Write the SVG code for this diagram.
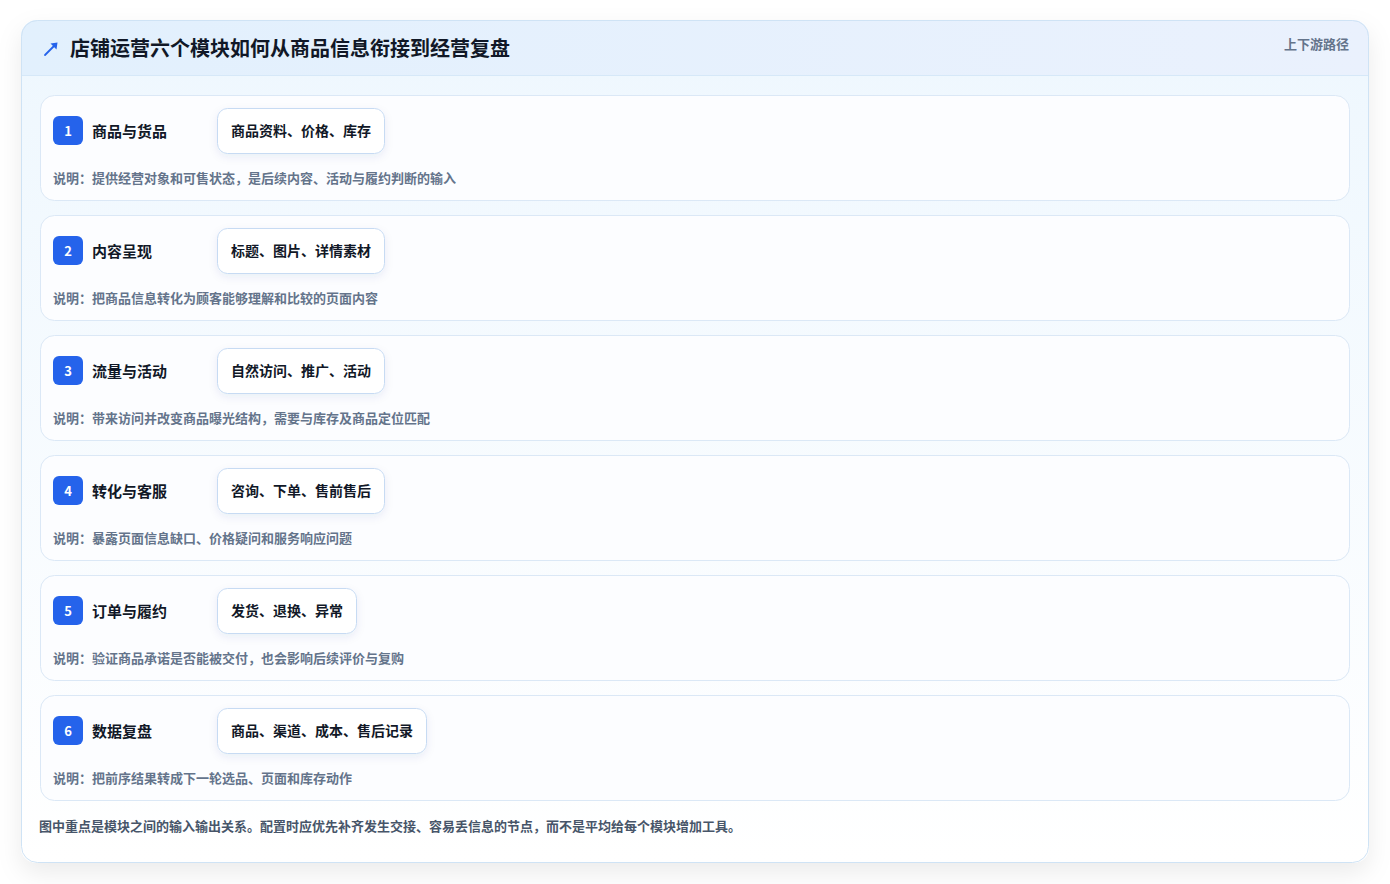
<svg xmlns="http://www.w3.org/2000/svg" width="1390" height="884" viewBox="0 0 1390 884">
<defs>
<filter id="cardShadow" x="-10%" y="-10%" width="120%" height="125%">
<feDropShadow dx="0" dy="10" stdDeviation="12" flood-color="#0f172a" flood-opacity="0.08"/>
</filter>
<filter id="chipShadow" x="-20%" y="-30%" width="140%" height="180%">
<feDropShadow dx="0" dy="3" stdDeviation="4" flood-color="#1e3a8a" flood-opacity="0.08"/>
</filter>
<linearGradient id="headGrad" x1="0" y1="0" x2="1" y2="0">
<stop offset="0" stop-color="#e2f0fd"/>
<stop offset="1" stop-color="#eaf1fd"/>
</linearGradient>
<linearGradient id="bodyGrad" x1="0" y1="0" x2="0" y2="1">
<stop offset="0" stop-color="#eef7fe"/>
<stop offset="1" stop-color="#ffffff"/>
</linearGradient>
<clipPath id="cardClip"><rect x="21" y="20" width="1348" height="843" rx="16"/></clipPath>
<style>
text{font-family:"Noto Sans CJK SC","Noto Sans",sans-serif;}
.title{font-size:20px;font-weight:700;fill:#111827;}
.tag{font-size:13px;font-weight:600;fill:#64748b;}
.row{fill:#fcfdff;stroke:#dbe8f6;stroke-width:1;}
.badge{fill:#2563eb;}
.num{font-size:13px;font-weight:700;fill:#ffffff;text-anchor:middle;}
.name{font-size:15px;font-weight:700;fill:#111827;}
.chip{fill:#ffffff;stroke:#c7dbf3;stroke-width:1;}
.chiptxt{font-size:14px;font-weight:700;fill:#111827;}
.desc{font-size:13px;font-weight:600;fill:#64748b;}
.foot{font-size:13px;font-weight:600;fill:#475569;}
</style>
</defs>
<rect x="21" y="20" width="1348" height="843" rx="16" fill="url(#bodyGrad)" filter="url(#cardShadow)"/>
<g clip-path="url(#cardClip)">
<rect x="21" y="20" width="1348" height="56" fill="url(#headGrad)"/>
<line x1="21" y1="75.5" x2="1369" y2="75.5" stroke="#d6e8f8" stroke-width="1"/>
</g>
<rect x="21.5" y="20.5" width="1347" height="842" rx="16" fill="none" stroke="#cfe3f5" stroke-width="1"/>
<g id="header">
<line x1="45" y1="55" x2="54" y2="46" stroke="#2563eb" stroke-width="1.8" stroke-linecap="round"/>
<polygon points="57.5,42.5 56.5,49.5 50.5,43.5" fill="#2563eb"/>
<text class="title" x="70" y="56">店铺运营六个模块如何从商品信息衔接到经营复盘</text>
<text class="tag" x="1349" y="49" text-anchor="end">上下游路径</text>
</g>
<g id="node1">
<rect class="row" x="40.5" y="95.5" width="1309" height="105" rx="14"/>
<rect class="badge" x="53" y="116" width="30" height="29" rx="6"/>
<text class="num" x="68" y="135.5">1</text>
<text class="name" x="92" y="136.5">商品与货品</text>
<rect class="chip" x="217.5" y="108.5" width="167" height="45" rx="10" filter="url(#chipShadow)"/>
<text class="chiptxt" x="231" y="135.5">商品资料、价格、库存</text>
<text class="desc" x="53" y="183">说明：提供经营对象和可售状态，是后续内容、活动与履约判断的输入</text>
</g>
<g id="node2">
<rect class="row" x="40.5" y="215.5" width="1309" height="105" rx="14"/>
<rect class="badge" x="53" y="236" width="30" height="29" rx="6"/>
<text class="num" x="68" y="255.5">2</text>
<text class="name" x="92" y="256.5">内容呈现</text>
<rect class="chip" x="217.5" y="228.5" width="167" height="45" rx="10" filter="url(#chipShadow)"/>
<text class="chiptxt" x="231" y="255.5">标题、图片、详情素材</text>
<text class="desc" x="53" y="303">说明：把商品信息转化为顾客能够理解和比较的页面内容</text>
</g>
<g id="node3">
<rect class="row" x="40.5" y="335.5" width="1309" height="105" rx="14"/>
<rect class="badge" x="53" y="356" width="30" height="29" rx="6"/>
<text class="num" x="68" y="375.5">3</text>
<text class="name" x="92" y="376.5">流量与活动</text>
<rect class="chip" x="217.5" y="348.5" width="167" height="45" rx="10" filter="url(#chipShadow)"/>
<text class="chiptxt" x="231" y="375.5">自然访问、推广、活动</text>
<text class="desc" x="53" y="423">说明：带来访问并改变商品曝光结构，需要与库存及商品定位匹配</text>
</g>
<g id="node4">
<rect class="row" x="40.5" y="455.5" width="1309" height="105" rx="14"/>
<rect class="badge" x="53" y="476" width="30" height="29" rx="6"/>
<text class="num" x="68" y="495.5">4</text>
<text class="name" x="92" y="496.5">转化与客服</text>
<rect class="chip" x="217.5" y="468.5" width="167" height="45" rx="10" filter="url(#chipShadow)"/>
<text class="chiptxt" x="231" y="495.5">咨询、下单、售前售后</text>
<text class="desc" x="53" y="543">说明：暴露页面信息缺口、价格疑问和服务响应问题</text>
</g>
<g id="node5">
<rect class="row" x="40.5" y="575.5" width="1309" height="105" rx="14"/>
<rect class="badge" x="53" y="596" width="30" height="29" rx="6"/>
<text class="num" x="68" y="615.5">5</text>
<text class="name" x="92" y="616.5">订单与履约</text>
<rect class="chip" x="217.5" y="588.5" width="139" height="45" rx="10" filter="url(#chipShadow)"/>
<text class="chiptxt" x="231" y="615.5">发货、退换、异常</text>
<text class="desc" x="53" y="663">说明：验证商品承诺是否能被交付，也会影响后续评价与复购</text>
</g>
<g id="node6">
<rect class="row" x="40.5" y="695.5" width="1309" height="105" rx="14"/>
<rect class="badge" x="53" y="716" width="30" height="29" rx="6"/>
<text class="num" x="68" y="735.5">6</text>
<text class="name" x="92" y="736.5">数据复盘</text>
<rect class="chip" x="217.5" y="708.5" width="209" height="45" rx="10" filter="url(#chipShadow)"/>
<text class="chiptxt" x="231" y="735.5">商品、渠道、成本、售后记录</text>
<text class="desc" x="53" y="783">说明：把前序结果转成下一轮选品、页面和库存动作</text>
</g>
<g id="connectors"></g>
<g id="footer">
<text class="foot" x="39" y="831">图中重点是模块之间的输入输出关系。配置时应优先补齐发生交接、容易丢信息的节点，而不是平均给每个模块增加工具。</text>
</g>
</svg>
